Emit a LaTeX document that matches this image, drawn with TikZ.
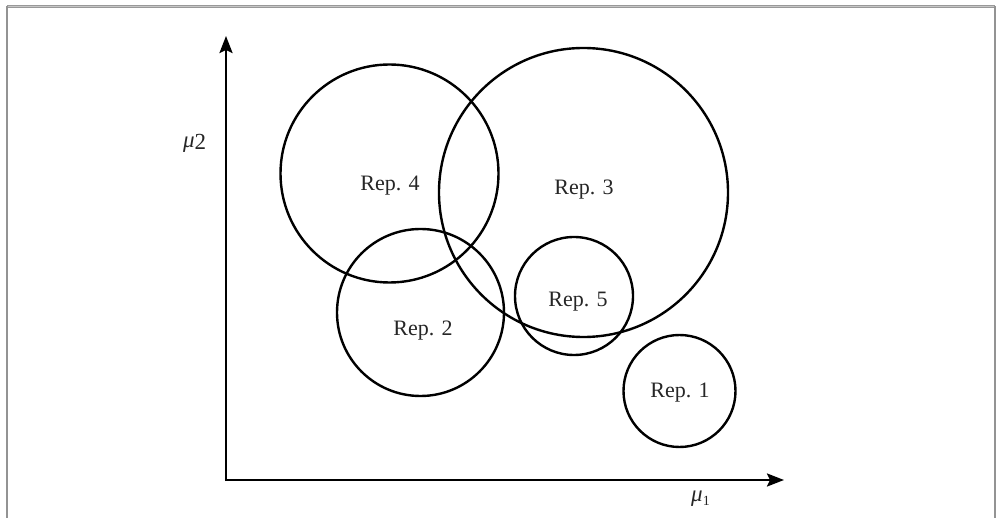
\documentclass[tikz,border=0pt]{standalone}
\usepackage{fontspec}
\setmainfont{Liberation Serif}
\usetikzlibrary{arrows.meta}
\begin{document}
\begin{tikzpicture}[x=1pt,y=-1pt,
  rep/.style={circle, draw=black, line width=2.4pt, inner sep=0pt},
  lbl/.style={text=black!85, font=\fontsize{22}{22}\selectfont, inner sep=0pt},
  axlbl/.style={text=black!85, font=\fontsize{23}{23}\selectfont, inner sep=0pt},
  axis/.style={line width=2.4pt, -{Stealth[length=17pt,width=13pt,inset=3pt]}},
  frame/.style={draw=gray!85, line width=1.6pt}]
\useasboundingbox (0,0) rectangle (996,518);
% frame
\coordinate (ftl) at (7,6.5);
\coordinate (ftr) at (995,6.5);
\coordinate (fbl) at (7,518);
\coordinate (fbr) at (995,518);
\draw[draw=gray!80, line width=3.4pt] (ftl) -- (ftr);
\draw[draw=gray!45, line width=1pt] (ftl) -- (ftr);
\draw[frame] (ftl) -- (fbl);
\draw[frame] (ftr) -- (fbr);
% axes
\coordinate (o) at (226,480);
\coordinate (ytip) at (226,36);
\coordinate (xtip) at (784,480);
\draw[axis] ([yshift=-1.2pt]o) -- (ytip);
\draw[axis] ([xshift=-1.2pt]o) -- (xtip);
\node[axlbl, anchor=base west] (mu2) at (183,148) {\textit{μ}\raisebox{-2pt}{2}};
\node[axlbl, anchor=base west] (mu1) at (691,501) {\textit{μ}\raisebox{-4pt}{\fontsize{14}{14}\selectfont 1}};
% circles
\node[rep, minimum size=218pt] (c4) at (389.5,173.5) {};
\node[rep, minimum size=289pt] (c3) at (583.5,192.5) {};
\node[rep, minimum size=167pt] (c2) at (420.5,312.5) {};
\node[rep, minimum size=118pt] (c5) at (574,296) {};
\node[rep, minimum size=112pt] (c1) at (679.5,391) {};
% labels
\node[lbl] (r4) at (390,186) {Rep. 4};
\node[lbl] (r3) at (584,190) {Rep. 3};
\node[lbl] (r2) at (423,331) {Rep. 2};
\node[lbl] (r5) at (578,302) {Rep. 5};
\node[lbl] (r1) at (680,393) {Rep. 1};
\end{tikzpicture}
\end{document}
